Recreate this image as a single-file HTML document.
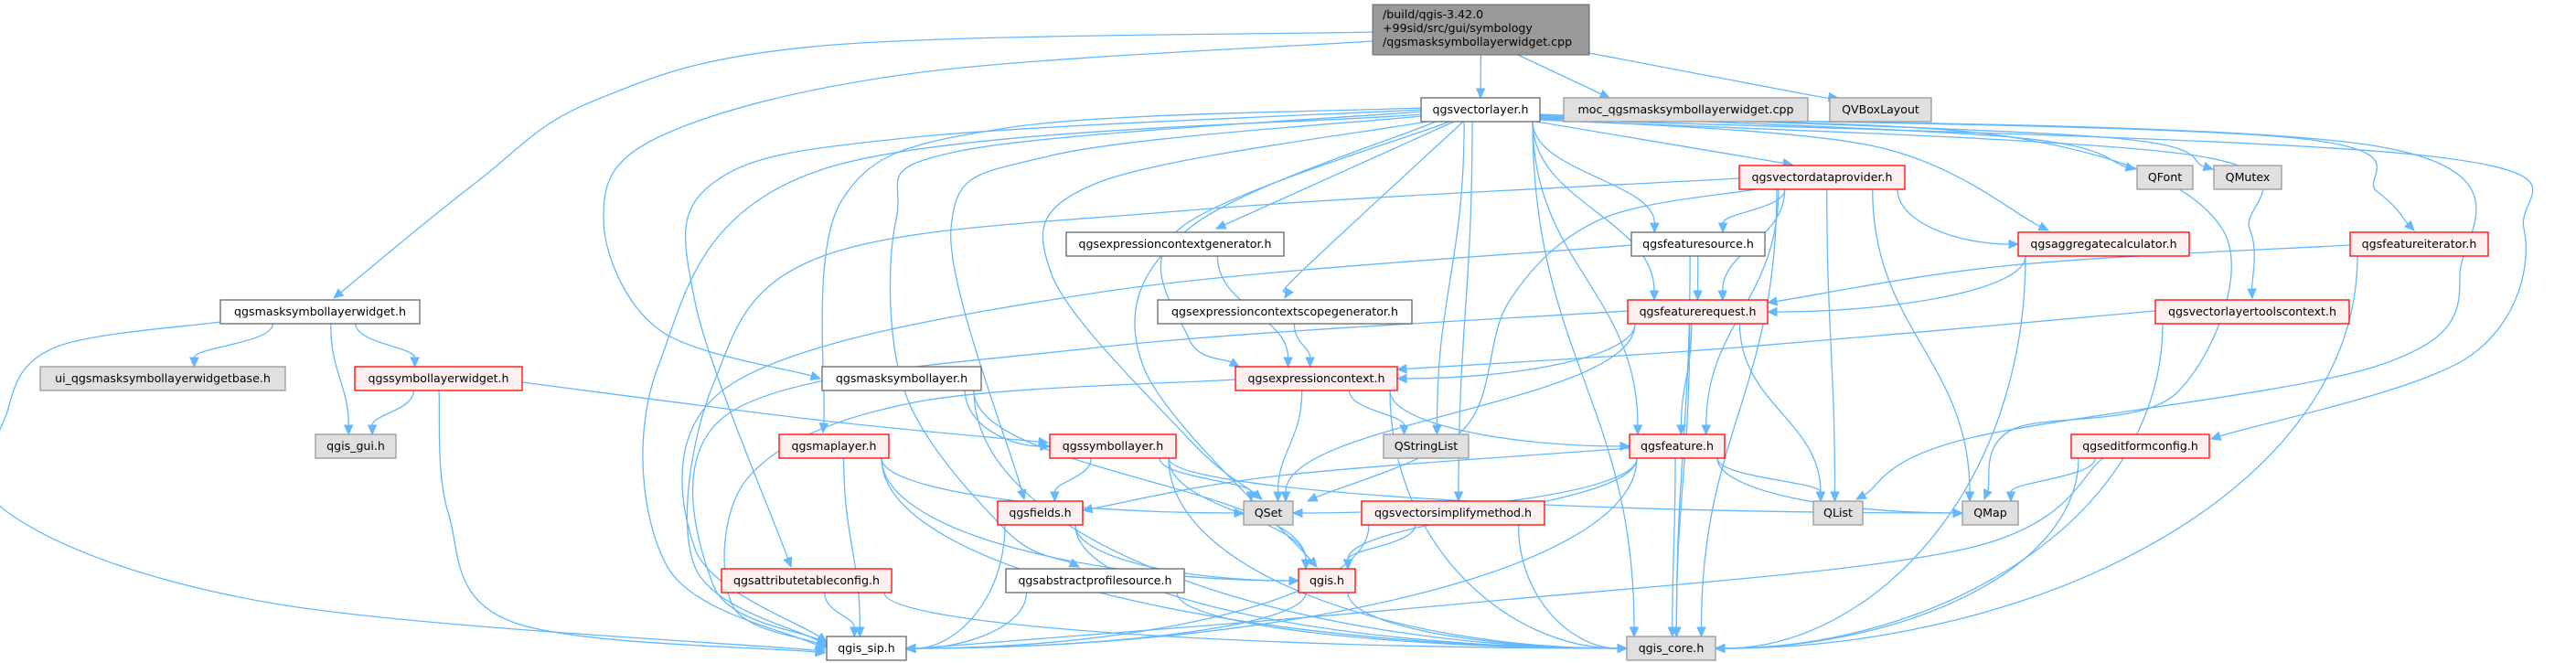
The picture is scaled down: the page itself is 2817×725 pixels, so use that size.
<!DOCTYPE html>
<html><head><meta charset="utf-8"><style>
html,body{margin:0;padding:0;background:#fff;}
svg{display:block;}
</style></head><body>
<svg id="g" width="2817" height="725" viewBox="0 0 2817 725" xmlns="http://www.w3.org/2000/svg">
<g id="edges" fill="none" stroke="#63b8ff" stroke-width="1.3"></g>
<g id="heads" fill="#63b8ff" stroke="#63b8ff"></g>
<g id="nodes">
<rect x="1501" y="5" width="237" height="55" fill="#999999" stroke="#666666"/>
</g>
</svg>
<script>
var N={
vl:[1554,107,130,"w"],moc:[1710,107,267,"g"],vbox:[2001,107,111,"g"],
vdp:[1902,181,181,"r"],qfont:[2337,181,61,"g"],qmutex:[2421,181,74,"g"],
ecg:[1166,254,238,"w"],fs:[1784,254,146,"w"],agg:[2207,254,187,"r"],fit:[2570,254,151,"r"],
mslw:[241,328,218,"w"],ecsg:[1266,328,278,"w"],fr:[1780,328,153,"r"],vltc:[2357,328,212,"r"],
ui:[44,401,268,"g"],slw:[388,401,183,"r"],msl:[899,401,174,"w"],ec:[1351,401,177,"r"],
gui:[345,475,88,"g"],ml:[852,475,120,"r"],sl:[1148,475,138,"r"],qsl:[1513,475,93,"g"],feat:[1782,475,104,"r"],efc:[2265,475,151,"r"],
fields:[1091,548,93,"r"],qset:[1360,548,54,"g"],vsm:[1489,548,200,"r"],qlist:[1983,548,54,"g"],qmap:[2146,548,61,"g"],
atc:[789,622,186,"r"],aps:[1100,622,195,"w"],qgis:[1420,622,62,"r"],
sip:[904,696,87,"w"],core:[1779,696,97,"g"],
top:[1501,5,237,"top"]
};
var H=26;
var C={
"top>mslw":[[1501,35],[900,50],[650,110],[520,200],[365,326]],
"top>msl":[[1501,45],[1000,80],[720,150],[660,240],[720,360],[897,414]],
"top>moc":[[1660,60],[1760,107]],
"top>vbox":[[1738,58],[1980,104],[2010,107]],
"mslw>sip":[[241,352],[60,380],[8,450],[8,560],[300,660],[902,712]],
"slw>sip":[[480,427],[490,560],[560,680],[902,714]],
"vl>ml":[[1554,118],[1100,140],[920,220],[900,473]],
"vl>atc":[[1554,120],[1000,150],[780,200],[760,330],[865,620]],
"vl>aps":[[1554,122],[1050,165],[980,240],[990,430],[1100,580],[1180,620]],
"vl>sip":[[1554,125],[900,185],[720,400],[730,620],[902,710]],
"vl>fields":[[1554,127],[1150,170],[1040,250],[1120,546]],
"vl>qset":[[1560,133],[1200,200],[1150,300],[1300,480],[1380,546]],
"vl>qgis":[[1570,133],[1300,250],[1250,400],[1440,620]],
"vl>ecg":[[1590,133],[1330,250]],
"vl>ecsg":[[1600,133],[1420,300],[1405,326]],
"vl>ec":[[1585,133],[1290,250],[1300,370],[1355,401]],
"vl>efc":[[1684,130],[2650,170],[2760,250],[2700,390],[2418,480]],
"vl>qlist":[[1684,128],[2600,160],[2690,300],[2600,400],[2150,480],[2030,546]],
"vl>qmap":[[1684,129],[2200,150],[2430,250],[2380,430],[2200,470],[2170,546]],
"vl>vltc":[[1684,131],[2400,170],[2460,250],[2463,326]],
"vl>fit":[[1684,127],[2500,150],[2600,210],[2640,252]],
"vl>qfont":[[1684,126],[2200,150],[2335,185]],
"vl>qmutex":[[1684,125],[2300,150],[2420,185]],
"vl>agg":[[1684,130],[2050,160],[2240,252]],
"vl>vdp":[[1680,133],[1960,180]],
"vdp>sip":[[1902,195],[1300,230],[900,280],[780,420],[760,620],[904,706]],
"vdp>qset":[[1920,207],[1750,240],[1650,330],[1600,470],[1430,548]],
"fs>sip":[[1784,268],[1200,320],[800,420],[760,600],[904,702]],
"fr>sip":[[1780,340],[1200,380],[800,450],[780,640],[904,704]],
"ec>sip":[[1351,415],[1000,440],[820,520],[800,660],[904,708]],
"vltc>ec":[[2357,340],[1900,380],[1528,404]],
"fit>fr":[[2570,268],[2200,290],[1933,331]],
"efc>sip":[[2300,501],[2150,600],[1600,660],[991,710]],
"feat>fields":[[1782,490],[1400,520],[1184,558]],
"slw>sl":[[571,418],[900,460],[1146,484]]
};
var E=[
["top","mslw"],["top","msl"],["top","vl"],["top","moc"],["top","vbox"],
["mslw","ui"],["mslw","gui"],["mslw","slw"],["mslw","sip"],
["slw","gui"],["slw","sl"],["slw","sip"],
["msl","sl"],["msl","core"],["msl","qgis"],
["vl","ecg"],["vl","ecsg"],["vl","ec"],["vl","ml"],["vl","atc"],["vl","aps"],["vl","fields"],["vl","qset"],["vl","qgis"],["vl","sip"],["vl","core"],["vl","qsl"],["vl","vsm"],["vl","feat"],["vl","fr"],["vl","fs"],["vl","vdp"],["vl","agg"],["vl","qfont"],["vl","qmutex"],["vl","fit"],["vl","vltc"],["vl","efc"],["vl","qlist"],["vl","qmap"],
["vdp","fs"],["vdp","fr"],["vdp","agg"],["vdp","feat"],["vdp","qlist"],["vdp","qmap"],["vdp","qset"],["vdp","core"],["vdp","sip"],
["fs","fr"],["fs","core"],["fs","sip"],["agg","fr"],["agg","core"],["fit","fr"],["fit","core"],
["ecg","ec"],["ecsg","ec"],
["fr","ec"],["fr","feat"],["fr","qlist"],["fr","core"],["fr","sip"],["fr","qset"],
["vltc","ec"],["vltc","core"],
["ec","feat"],["ec","qsl"],["ec","qset"],["ec","core"],["ec","sip"],
["feat","fields"],["feat","qset"],["feat","qlist"],["feat","qmap"],["feat","core"],["feat","sip"],["feat","qgis"],
["efc","qmap"],["efc","core"],["efc","sip"],
["sl","fields"],["sl","qset"],["sl","qgis"],["sl","core"],["sl","qmap"],
["ml","qset"],["ml","qgis"],["ml","core"],["ml","sip"],
["fields","qgis"],["fields","core"],["fields","sip"],
["vsm","qgis"],["vsm","core"],["vsm","sip"],
["atc","sip"],["atc","core"],["aps","sip"],["aps","core"],
["qgis","sip"],["qgis","core"]
];
var ns="http://www.w3.org/2000/svg";
var eg=document.getElementById("edges"),hg=document.getElementById("heads"),ng=document.getElementById("nodes");
function head(tx,ty,dx,dy){
 var l=Math.sqrt(dx*dx+dy*dy)||1;dx/=l;dy/=l;
 var ex=tx-dx*10,ey=ty-dy*10,px=-dy,py=dx;
 var a=document.createElementNS(ns,"polygon");
 a.setAttribute("points",tx+","+ty+" "+(ex+px*4.5)+","+(ey+py*4.5)+" "+(ex-px*4.5)+","+(ey-py*4.5));
 hg.appendChild(a);
 return [ex,ey];
}
function addPath(d){var p=document.createElementNS(ns,"path");p.setAttribute("d",d);eg.appendChild(p);}
function custom(P){
 var n=P.length,last=P[n-1],prev=P[n-2];
 var e=head(last[0],last[1],last[0]-prev[0],last[1]-prev[1]);
 var Q=P.slice();Q[n-1]=e;
 var d="M"+Q[0][0]+","+Q[0][1];
 for(var i=0;i<n-1;i++){
  var p0=Q[Math.max(0,i-1)],p1=Q[i],p2=Q[i+1],p3=Q[Math.min(n-1,i+2)];
  var c1=[p1[0]+(p2[0]-p0[0])/6,p1[1]+(p2[1]-p0[1])/6];
  var c2=[p2[0]-(p3[0]-p1[0])/6,p2[1]-(p3[1]-p1[1])/6];
  d+=" C"+c1[0]+","+c1[1]+" "+c2[0]+","+c2[1]+" "+p2[0]+","+p2[1];
 }
 addPath(d);
}
E.forEach(function(e){
 var key=e[0]+">"+e[1];
 if(C[key]){custom(C[key]);return;}
 var s=N[e[0]],t=N[e[1]];
 var sh=e[0]=="top"?55:H;
 var scx=s[0]+s[2]/2,tcx=t[0]+t[2]/2;
 var sx=Math.max(s[0]+8,Math.min(s[0]+s[2]-8,scx+(tcx-scx)*0.3));
 var sy=s[1]+sh;
 var tx,ty,c1x,c1y,c2x,c2y;
 var dy=t[1]-sy;
 var bottom=(e[1]=="sip"||e[1]=="core");
 if((bottom && Math.abs(tcx-scx)>dy*0.9+40) || (Math.abs(tcx-scx)>3.2*(dy+20) && dy>40)){
  ty=t[1]+13; tx=tcx<scx?t[0]+t[2]:t[0];
  c1x=sx;c1y=sy+(ty-sy)*0.6;c2x=tx+(sx-tx)*0.5;c2y=ty;
 } else {
  tx=Math.max(t[0]+8,Math.min(t[0]+t[2]-8,tcx+(scx-tcx)*0.2));ty=t[1];
  c1x=sx;c1y=sy+dy*0.45;c2x=tx;c2y=ty-dy*0.45;
 }
 var en=head(tx,ty,tx-c2x,ty-c2y);
 addPath("M"+sx+","+sy+" C"+c1x+","+c1y+" "+c2x+","+c2y+" "+en[0]+","+en[1]);
});
for(var k in N){var n=N[k];if(n[3]=="top")continue;
 var r=document.createElementNS(ns,"rect");
 r.setAttribute("x",n[0]);r.setAttribute("y",n[1]);r.setAttribute("width",n[2]);r.setAttribute("height",H);
 var f={w:"#ffffff",g:"#e0e0e0",r:"#fff0f0"}[n[3]],st={w:"#666666",g:"#999999",r:"#ff0000"}[n[3]];
 r.setAttribute("fill",f);r.setAttribute("stroke",st);r.setAttribute("stroke-width","1.3");
 ng.appendChild(r);
}
</script>
<div style="position:absolute;left:0;top:0;width:2817px;height:725px;pointer-events:none;font-family:'DejaVu Sans','Liberation Sans',sans-serif;font-size:12.6px;">
<div style="position:absolute;left:1512px;top:8px;line-height:15px;white-space:nowrap">/build/qgis-3.42.0<br>+99sid/src/gui/symbology<br>/qgsmasksymbollayerwidget.cpp</div>
<div style="position:absolute;left:1554px;top:107px;width:130px;line-height:26px;text-align:center">qgsvectorlayer.h</div>
<div style="position:absolute;left:1710px;top:107px;width:267px;line-height:26px;text-align:center">moc_qgsmasksymbollayerwidget.cpp</div>
<div style="position:absolute;left:2001px;top:107px;width:111px;line-height:26px;text-align:center">QVBoxLayout</div>
<div style="position:absolute;left:1902px;top:181px;width:181px;line-height:26px;text-align:center">qgsvectordataprovider.h</div>
<div style="position:absolute;left:2337px;top:181px;width:61px;line-height:26px;text-align:center">QFont</div>
<div style="position:absolute;left:2421px;top:181px;width:74px;line-height:26px;text-align:center">QMutex</div>
<div style="position:absolute;left:1166px;top:254px;width:238px;line-height:26px;text-align:center">qgsexpressioncontextgenerator.h</div>
<div style="position:absolute;left:1784px;top:254px;width:146px;line-height:26px;text-align:center">qgsfeaturesource.h</div>
<div style="position:absolute;left:2207px;top:254px;width:187px;line-height:26px;text-align:center">qgsaggregatecalculator.h</div>
<div style="position:absolute;left:2570px;top:254px;width:151px;line-height:26px;text-align:center">qgsfeatureiterator.h</div>
<div style="position:absolute;left:241px;top:328px;width:218px;line-height:26px;text-align:center">qgsmasksymbollayerwidget.h</div>
<div style="position:absolute;left:1266px;top:328px;width:278px;line-height:26px;text-align:center">qgsexpressioncontextscopegenerator.h</div>
<div style="position:absolute;left:1780px;top:328px;width:153px;line-height:26px;text-align:center">qgsfeaturerequest.h</div>
<div style="position:absolute;left:2357px;top:328px;width:212px;line-height:26px;text-align:center">qgsvectorlayertoolscontext.h</div>
<div style="position:absolute;left:44px;top:401px;width:268px;line-height:26px;text-align:center">ui_qgsmasksymbollayerwidgetbase.h</div>
<div style="position:absolute;left:388px;top:401px;width:183px;line-height:26px;text-align:center">qgssymbollayerwidget.h</div>
<div style="position:absolute;left:899px;top:401px;width:174px;line-height:26px;text-align:center">qgsmasksymbollayer.h</div>
<div style="position:absolute;left:1351px;top:401px;width:177px;line-height:26px;text-align:center">qgsexpressioncontext.h</div>
<div style="position:absolute;left:345px;top:475px;width:88px;line-height:26px;text-align:center">qgis_gui.h</div>
<div style="position:absolute;left:852px;top:475px;width:120px;line-height:26px;text-align:center">qgsmaplayer.h</div>
<div style="position:absolute;left:1148px;top:475px;width:138px;line-height:26px;text-align:center">qgssymbollayer.h</div>
<div style="position:absolute;left:1513px;top:475px;width:93px;line-height:26px;text-align:center">QStringList</div>
<div style="position:absolute;left:1782px;top:475px;width:104px;line-height:26px;text-align:center">qgsfeature.h</div>
<div style="position:absolute;left:2265px;top:475px;width:151px;line-height:26px;text-align:center">qgseditformconfig.h</div>
<div style="position:absolute;left:1091px;top:548px;width:93px;line-height:26px;text-align:center">qgsfields.h</div>
<div style="position:absolute;left:1360px;top:548px;width:54px;line-height:26px;text-align:center">QSet</div>
<div style="position:absolute;left:1489px;top:548px;width:200px;line-height:26px;text-align:center">qgsvectorsimplifymethod.h</div>
<div style="position:absolute;left:1983px;top:548px;width:54px;line-height:26px;text-align:center">QList</div>
<div style="position:absolute;left:2146px;top:548px;width:61px;line-height:26px;text-align:center">QMap</div>
<div style="position:absolute;left:789px;top:622px;width:186px;line-height:26px;text-align:center">qgsattributetableconfig.h</div>
<div style="position:absolute;left:1100px;top:622px;width:195px;line-height:26px;text-align:center">qgsabstractprofilesource.h</div>
<div style="position:absolute;left:1420px;top:622px;width:62px;line-height:26px;text-align:center">qgis.h</div>
<div style="position:absolute;left:904px;top:696px;width:87px;line-height:26px;text-align:center">qgis_sip.h</div>
<div style="position:absolute;left:1779px;top:696px;width:97px;line-height:26px;text-align:center">qgis_core.h</div>
</div>
</body></html>
